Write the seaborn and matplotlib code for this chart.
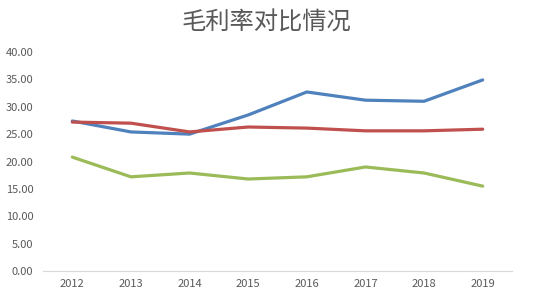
import matplotlib
matplotlib.use("Agg")
import matplotlib.pyplot as plt
import seaborn as sns
import pandas as pd

years = ["2012", "2013", "2014", "2015", "2016", "2017", "2018", "2019"]
series_a = [27.4, 25.4, 25.0, 28.5, 32.7, 31.2, 31.0, 34.9]
series_b = [27.2, 27.0, 25.4, 26.3, 26.1, 25.6, 25.6, 25.9]
series_c = [20.8, 17.2, 17.9, 16.8, 17.2, 19.0, 17.9, 15.5]
names = ["A", "B", "C"]
title = "毛利率对比情况"

df = pd.DataFrame({
    "year": years * 3,
    "value": series_a + series_b + series_c,
    "series": [names[0]] * 8 + [names[1]] * 8 + [names[2]] * 8,
})

sns.set_theme(style="white")
plt.rcParams['font.family'] = ['Noto Sans CJK SC', 'DejaVu Sans']

fig = plt.figure(figsize=(5.33, 3.04), dpi=100)
ax = fig.add_axes([43/533, 33/304, (512-43)/533, (271-52)/304])
sns.lineplot(data=df, x="year", y="value", hue="series", sort=False,
             palette=["#4F81BD", "#C0504D", "#9BBB59"], linewidth=2.3,
             legend=False, ax=ax)
ax.set_ylim(0, 40)
ax.set_xlim(-0.5, 7.5)
ax.set_yticks(range(0, 41, 5))
ax.set_yticklabels([f"{v:.2f}" for v in range(0, 41, 5)])
ax.set_xlabel("")
ax.set_ylabel("")
for s in ["top", "right", "left"]:
    ax.spines[s].set_visible(False)
ax.spines["bottom"].set_color("#D9D9D9")
ax.spines["bottom"].set_linewidth(0.8)
ax.tick_params(axis="both", length=0, labelsize=8, labelcolor="#595959")
ax.tick_params(axis="y", pad=7)
ax.tick_params(axis="x", pad=6)
fig.text(0.5, 0.925, title, ha="center", va="center", fontsize=17.5,
         color="#595959", fontweight="medium")
fig.savefig("out.png", dpi=100)
